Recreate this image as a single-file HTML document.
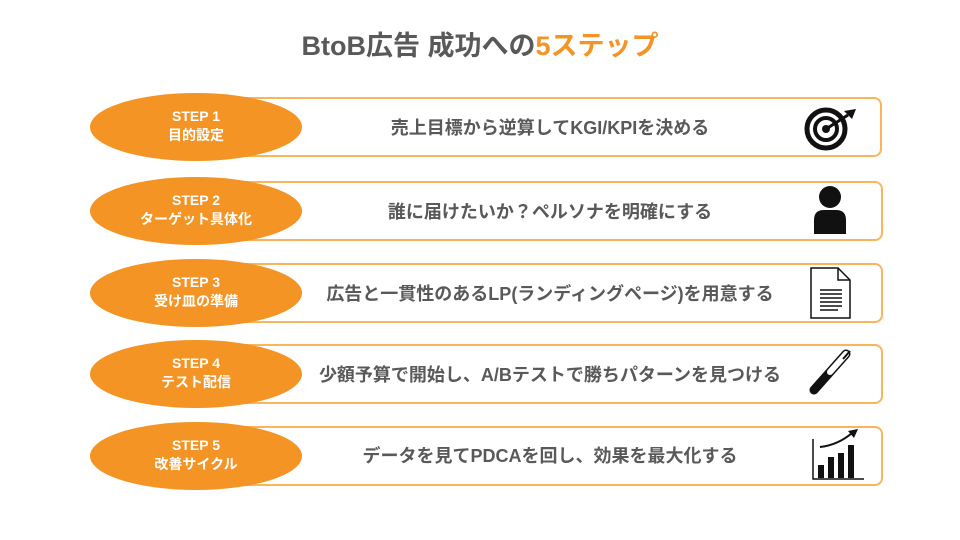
<!DOCTYPE html><html><head><meta charset="utf-8"><style>
body{margin:0;width:960px;height:540px;background:#fff;font-family:"Liberation Sans","Noto Sans CJK JP",sans-serif;position:relative;overflow:hidden}
.t{position:absolute;top:30px;left:0;width:960px;text-align:center;font-size:27px;line-height:32px;font-weight:bold;color:#595959}
.t span{color:#f39425}
.box{position:absolute;left:200px;width:678px;height:60px;border:2px solid #fbb45a;border-radius:8px;box-sizing:border-box}
.txt{position:absolute;left:290px;width:520px;text-align:center;font-size:18px;line-height:20px;font-weight:bold;color:#595959}
.el{position:absolute;left:90px;width:212px;height:68px;border-radius:50%;background:#f39425;color:#fff;text-align:center;font-weight:bold;font-size:14px;line-height:19px;box-sizing:border-box;padding-top:14px}
.ic{position:absolute;left:800px}
</style></head><body>
<div class="t">BtoB広告 成功への<span>5ステップ</span></div>

<div class="box" style="top:97px;width:682px"></div>
<div class="el" style="top:93px">STEP 1<br>目的設定</div>
<div class="txt" style="top:118px">売上目標から逆算してKGI/KPIを決める</div>
<svg class="ic" style="top:105px" width="60" height="46" viewBox="0 0 60 46"><circle cx="26" cy="24" r="19" fill="none" stroke="#111" stroke-width="5"/><circle cx="26" cy="24" r="11" fill="none" stroke="#111" stroke-width="4"/><circle cx="26" cy="24" r="4" fill="#111"/><line x1="26" y1="24" x2="48" y2="10" stroke="#111" stroke-width="3"/><polygon points="44,6 56,4 52,14" fill="#111"/></svg>

<div class="box" style="top:181px;width:683px"></div>
<div class="el" style="top:177px">STEP 2<br>ターゲット具体化</div>
<div class="txt" style="top:202px">誰に届けたいか？ペルソナを明確にする</div>
<svg class="ic" style="top:184px" width="60" height="52" viewBox="0 0 60 52"><circle cx="30" cy="13" r="11" fill="#111"/><path d="M14 50 V36 Q14 26 24 26 H36 Q46 26 46 36 V50Z" fill="#111"/></svg>

<div class="box" style="top:263px;width:683px"></div>
<div class="el" style="top:259px">STEP 3<br>受け皿の準備</div>
<div class="txt" style="top:284px">広告と一貫性のあるLP(ランディングページ)を用意する</div>
<svg class="ic" style="top:266px" width="60" height="56" viewBox="0 0 60 56"><path d="M11 2 H38 L50 14 V52 H11Z" fill="#fff" stroke="#111" stroke-width="1.5"/><path d="M38 2 V14 H50" fill="none" stroke="#111" stroke-width="1.5"/><g stroke="#111" stroke-width="1.5"><line x1="20" y1="24" x2="42" y2="24"/><line x1="20" y1="28" x2="42" y2="28"/><line x1="20" y1="32" x2="42" y2="32"/><line x1="20" y1="36" x2="42" y2="36"/><line x1="20" y1="40" x2="42" y2="40"/><line x1="20" y1="44" x2="38" y2="44"/></g></svg>

<div class="box" style="top:344px;width:683px"></div>
<div class="el" style="top:340px">STEP 4<br>テスト配信</div>
<div class="txt" style="top:365px">少額予算で開始し、A/Bテストで勝ちパターンを見つける</div>
<svg class="ic" style="top:348px" width="60" height="50" viewBox="0 0 60 50"><line x1="46" y1="6" x2="14" y2="42" stroke="#111" stroke-width="9" stroke-linecap="round"/><line x1="46" y1="6" x2="30" y2="24" stroke="#fff" stroke-width="6" stroke-linecap="round"/><line x1="50" y1="3" x2="43" y2="11" stroke="#111" stroke-width="2"/></svg>

<div class="box" style="top:426px;width:683px"></div>
<div class="el" style="top:422px">STEP 5<br>改善サイクル</div>
<div class="txt" style="top:446px">データを見てPDCAを回し、効果を最大化する</div>
<svg class="ic" style="top:427px" width="66" height="56" viewBox="0 0 66 56"><path d="M13 12 V52 H64" fill="none" stroke="#111" stroke-width="1.5"/><rect x="18" y="38" width="6" height="13" fill="#111"/><rect x="28" y="30" width="6" height="21" fill="#111"/><rect x="38" y="26" width="6" height="25" fill="#111"/><rect x="48" y="18" width="6" height="33" fill="#111"/><path d="M20 20 Q38 18 52 6" fill="none" stroke="#111" stroke-width="2"/><polygon points="48,4 58,2 54,11" fill="#111"/></svg>
</body></html>
